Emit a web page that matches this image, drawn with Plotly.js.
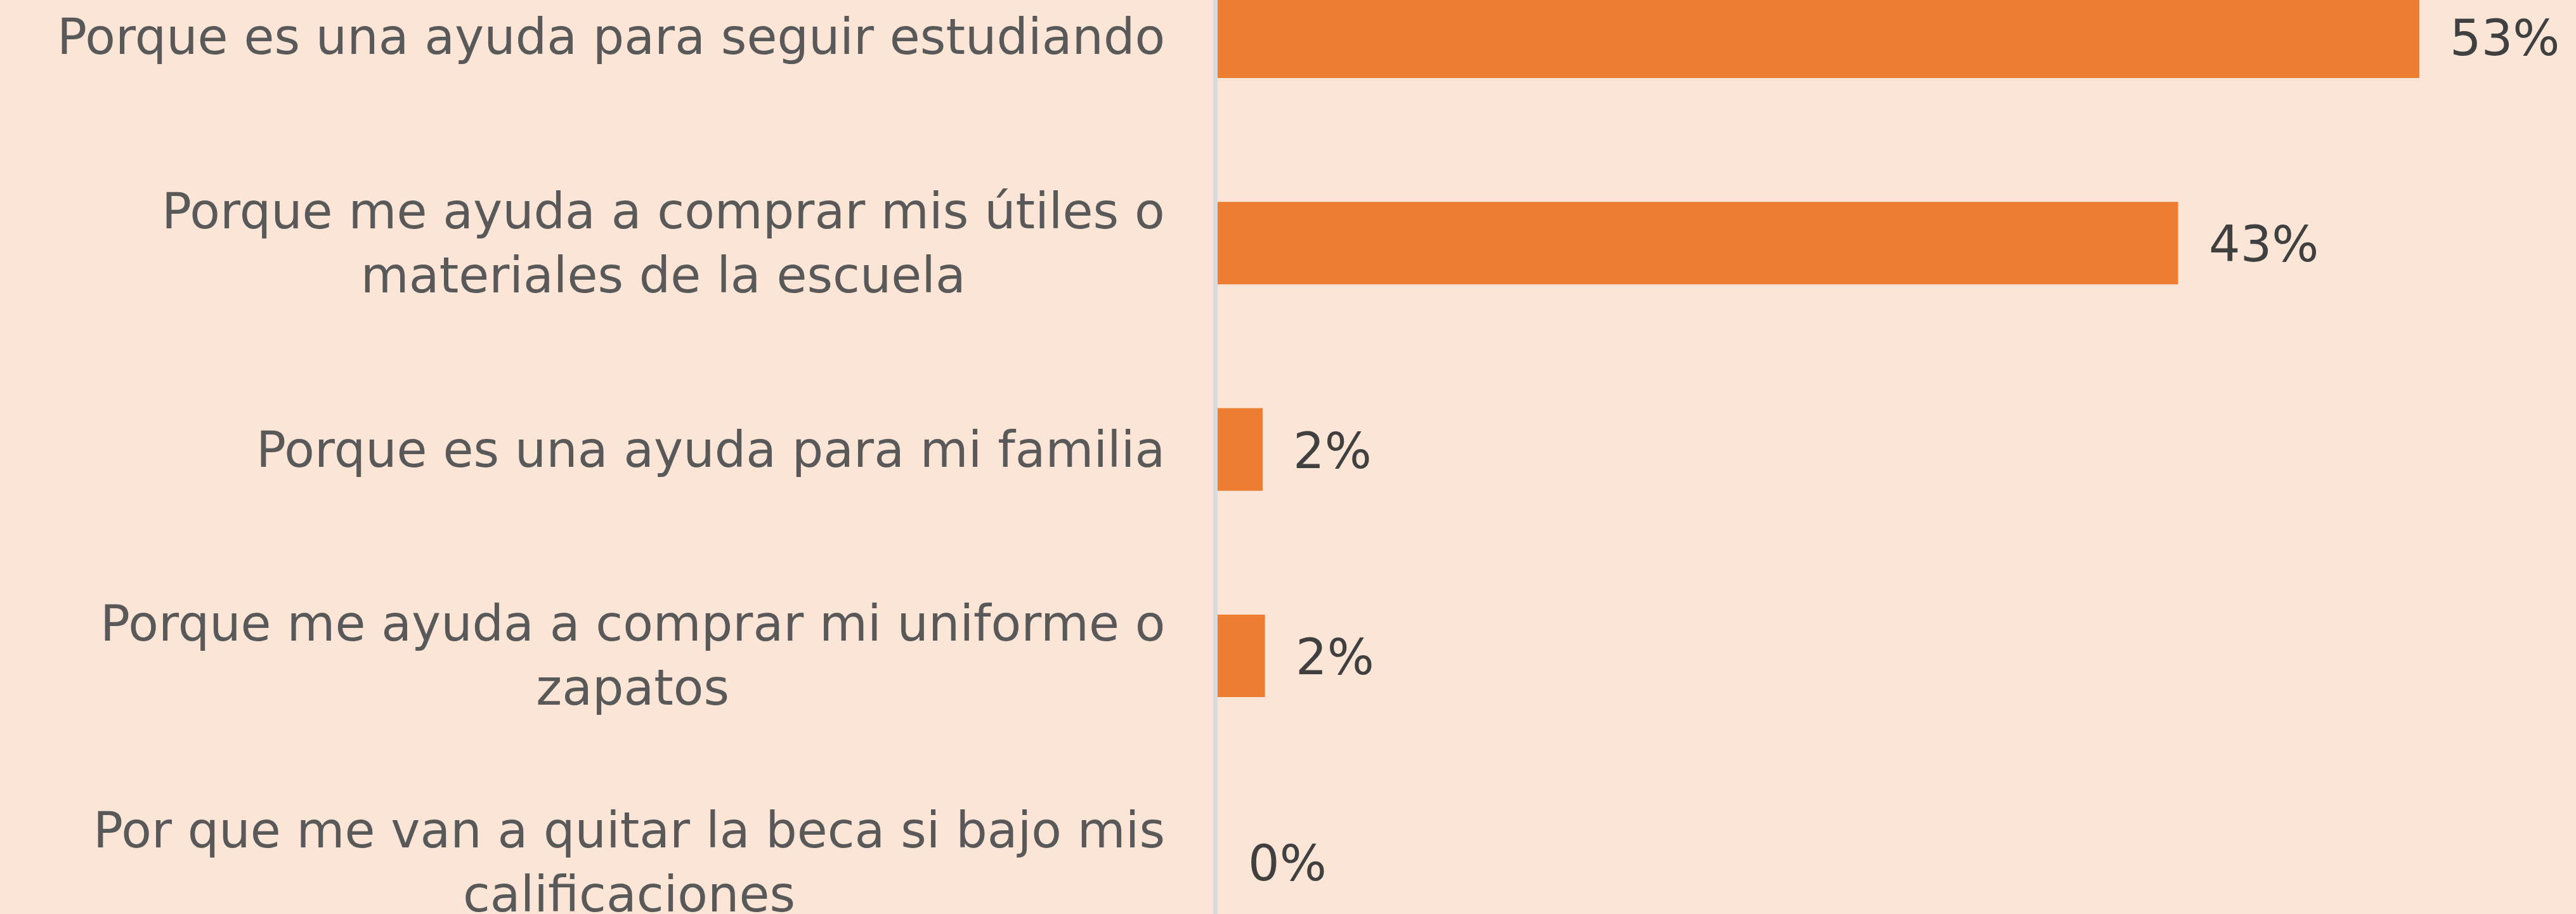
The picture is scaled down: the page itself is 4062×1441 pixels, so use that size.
<!DOCTYPE html>
<html>
<head>
<meta charset="utf-8">
<script src="https://cdn.plot.ly/plotly-3.0.1.min.js"></script>
<style>
  html, body { margin: 0; padding: 0; background: #FBE5D6; }
  #chart { width: 4062px; height: 1441px; }
</style>
</head>
<body>
<div id="chart"></div>
<script>
const categories = [
  "Porque es una ayuda para seguir estudiando",
  "Porque me ayuda a comprar mis útiles o<br>materiales de la escuela",
  "Porque es una ayuda para mi familia",
  "Porque me ayuda a comprar mi uniforme o<br>zapatos",
  "Por que me van a quitar la beca si bajo mis<br>calificaciones"
];
const values = [53.3, 42.6, 2.0, 2.1, 0.0];
const valueLabels = ["53%", "43%", "2%", "2%", "0%"];

const catIdx = categories.map((c, i) => i);

const trace = {
  type: 'bar',
  orientation: 'h',
  x: values,
  y: catIdx,
  width: 0.4,
  marker: { color: '#ED7D31' },
  hoverinfo: 'none'
};

const labelFont = { family: 'DejaVu Sans', size: 78, color: '#595959' };
const valueFont = { family: 'DejaVu Sans', size: 78, color: '#404040' };

const annotations = [];
categories.forEach((c, i) => {
  annotations.push({
    xref: 'paper', yref: 'y',
    x: 0, y: i,
    xshift: -81,
    xanchor: 'right', yanchor: 'middle',
    align: 'center',
    text: c,
    showarrow: false,
    font: labelFont
  });
  annotations.push({
    xref: 'x', yref: 'y',
    x: values[i], y: i,
    xshift: 46, yshift: -2,
    xanchor: 'left', yanchor: 'middle',
    text: valueLabels[i],
    showarrow: false,
    font: valueFont
  });
});

const layout = {
  width: 4062, height: 1441,
  margin: { l: 1920, r: 0, t: 0, b: 0, pad: 0 },
  paper_bgcolor: '#FBE5D6',
  plot_bgcolor: '#FBE5D6',
  showlegend: false,
  xaxis: {
    range: [0, 60.25],
    showgrid: false, zeroline: false, showticklabels: false, showline: false, ticks: ''
  },
  yaxis: {
    type: 'linear',
    range: [4.251, -0.178],
    showgrid: false, zeroline: false, showticklabels: false,
    showline: true, linecolor: '#D9DADC', linewidth: 7, ticks: ''
  },
  annotations: annotations
};

Plotly.newPlot('chart', [trace], layout, { displayModeBar: false, staticPlot: true });
</script>
</body>
</html>
